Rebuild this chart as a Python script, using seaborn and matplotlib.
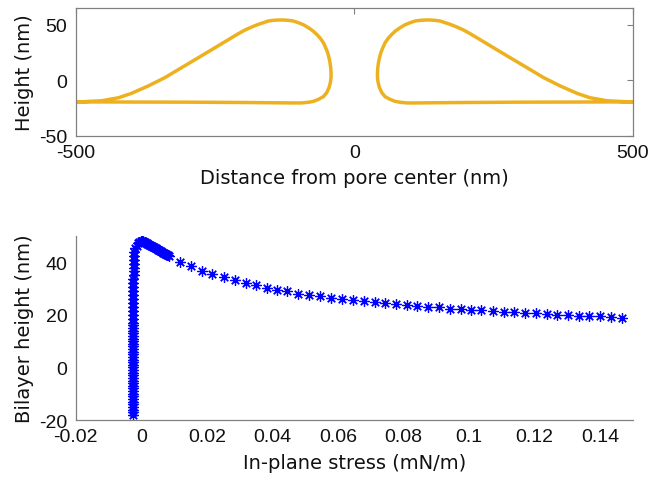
import matplotlib
matplotlib.use("Agg")
import matplotlib.pyplot as plt
import seaborn as sns
import pandas as pd

# ---- Bilayer profile around the pore (left and right lobes) ----
left_x = [-500, -450, -400, -300, -200, -112.3, -94.4, -82.4, -73.4, -64.4,
          -55.4, -49.5, -45.3, -42.9, -41.7, -41.7, -42.3, -43.5, -45.3, -47.7,
          -51.3, -55.4, -60.8, -67.4, -74.6, -82.4, -91.4, -100.4, -109.3, -118.3,
          -127.3, -136.3, -145.3, -154.2, -163.2, -172.2, -184.2, -196.2, -208.1,
          -220.1, -250, -280, -310, -340, -370, -400, -423, -453, -483, -500]
left_y = [-19.4, -19.4, -19.5, -19.6, -19.9, -20.3, -20.3, -19.7, -18.9, -17.1,
          -14.7, -11.1, -6.6, -2.1, 2.4, 6.9, 11.4, 15.9, 20.3, 24.8,
          29.3, 33.8, 37.7, 41.3, 44.6, 47.3, 50.0, 51.8, 53.3, 53.9,
          54.2, 54.2, 53.9, 53.3, 51.8, 50.3, 47.9, 45.2, 41.9,
          38.3, 29.3, 20.3, 11.4, 2.4, -5.1, -11.7, -15.6, -18.3, -19.1, -19.4]
right_x = [500, 450, 400, 300, 200, 112.3, 94.4, 82.4, 73.4, 64.4,
           55.4, 49.5, 45.3, 42.9, 41.7, 41.7, 42.3, 43.5, 45.3, 47.7,
           51.3, 55.4, 60.8, 67.4, 74.6, 82.4, 91.4, 100.4, 109.3, 118.3,
           127.3, 136.3, 145.3, 154.2, 163.2, 172.2, 184.2, 196.2, 208.1,
           220.1, 250, 280, 310, 340, 370, 400, 423, 453, 483, 500]
right_y = [-19.4, -19.4, -19.5, -19.6, -19.9, -20.3, -20.3, -19.7, -18.9, -17.1,
           -14.7, -11.1, -6.6, -2.1, 2.4, 6.9, 11.4, 15.9, 20.3, 24.8,
           29.3, 33.8, 37.7, 41.3, 44.6, 47.3, 50.0, 51.8, 53.3, 53.9,
           54.2, 54.2, 53.9, 53.3, 51.8, 50.3, 47.9, 45.2, 41.9,
           38.3, 29.3, 20.3, 11.4, 2.4, -5.1, -11.7, -15.6, -18.3, -19.1, -19.4]

# ---- Bilayer height versus in-plane stress ----
stress = [
    # steep branch near zero stress
    -0.0025, -0.0025, -0.0025, -0.0025, -0.0025, -0.0025, -0.0025, -0.0025, -0.0025,
    -0.0025, -0.0024, -0.0024, -0.0024, -0.0024, -0.0024, -0.0024, -0.0024, -0.0024,
    -0.0024, -0.0024, -0.0024, -0.0024, -0.0024, -0.0024, -0.0024, -0.0024, -0.0024,
    -0.0024, -0.0024, -0.0024, -0.0024, -0.0024, -0.0024, -0.0024, -0.0024, -0.0024,
    -0.0024, -0.0024, -0.0024, -0.0024, -0.0024, -0.0024, -0.0024, -0.0024, -0.0024,
    -0.0024, -0.0024, -0.0023, -0.0023, -0.0023, -0.0023, -0.0022, -0.0022, -0.0021,
    # turning point
    -0.0018, -0.0014, -0.0010, -0.0006, -0.0002, 0.0002, 0.0006, 0.0010,
    0.0013, 0.0016, 0.0019, 0.0022, 0.0025, 0.0028, 0.0031, 0.0034, 0.0037,
    0.0040, 0.0043, 0.0046, 0.0049, 0.0052, 0.0055, 0.0058, 0.0061, 0.0064,
    0.0067, 0.0070, 0.0073, 0.0076, 0.0079, 0.0082, 0.0085,
    # tension branch
    0.0117, 0.0151, 0.0185, 0.0217, 0.0252, 0.0286, 0.0319, 0.0351, 0.0383,
    0.0413, 0.0446, 0.0479, 0.0513, 0.0545, 0.0579, 0.0612, 0.0646, 0.0679,
    0.0712, 0.0744, 0.0778, 0.0811, 0.0842, 0.0875, 0.0908, 0.0941, 0.0975,
    0.1007, 0.1038, 0.1074, 0.1107, 0.1139, 0.1172, 0.1205, 0.1238, 0.1268,
    0.1301, 0.1336, 0.1367, 0.1400, 0.1433, 0.1468,
]
height = [
    -18, -17, -16, -15, -14, -13, -12, -11, -10,
    -9, -8, -7, -6, -5, -4, -3, -2, -1,
    0, 1, 2, 3, 4, 5, 6, 7, 8,
    9, 10, 11, 12, 13, 14, 15, 16, 17,
    18.5, 20, 21.5, 23, 24.5, 26, 27.5, 29, 30.5,
    32, 33.5, 35, 36.5, 38, 39.5, 41, 42.5, 44,
    45.3, 46.3, 47.2, 47.8, 48.1, 48.2, 48.0, 47.7,
    47.5, 47.3, 47.1, 46.9, 46.7, 46.5, 46.3, 46.1, 45.9,
    45.7, 45.5, 45.3, 45.1, 44.8, 44.6, 44.4, 44.2, 44.0,
    43.7, 43.5, 43.3, 43.1, 42.9, 42.7, 42.5,
    40.2, 38.5, 36.8, 35.5, 34.4, 33.2, 32.2, 31.2, 30.3,
    29.5, 28.9, 28.1, 27.6, 27.0, 26.6, 26.1, 25.6, 25.2,
    24.8, 24.4, 24.0, 23.7, 23.3, 23.0, 22.8, 22.4, 22.3,
    22.0, 21.8, 21.5, 21.2, 21.0, 20.7, 20.6, 20.4, 20.1,
    20.0, 19.7, 19.6, 19.5, 19.2, 18.9,
]

x_ticks_top = [-500, 0, 500]
y_ticks_top = [-50, 0, 50]
x_ticks_bot = [-0.02, 0, 0.02, 0.04, 0.06, 0.08, 0.1, 0.12, 0.14]
x_tick_labels_bot = ["-0.02", "0", "0.02", "0.04", "0.06", "0.08", "0.1", "0.12", "0.14"]
y_ticks_bot = [-20, 0, 20, 40]

sns.set_theme(style="white")
plt.rcParams["font.family"] = ["Liberation Sans", "DejaVu Sans"]
plt.rcParams["axes.unicode_minus"] = False

axis_gray = "#808080"
label_font = dict(family="DejaVu Sans", size=14, color="#111111")

fig = plt.figure(figsize=(6.5, 4.81), dpi=100)
ax1 = fig.add_axes([0.1165, 0.7152, 0.857, 0.2661])
ax2 = fig.add_axes([0.1165, 0.1247, 0.857, 0.3826])

# top panel
line_color = "#EDB120"
df_left = pd.DataFrame({"x": left_x, "y": left_y})
df_right = pd.DataFrame({"x": right_x, "y": right_y})
for d in (df_left, df_right):
    sns.lineplot(data=d, x="x", y="y", sort=False, estimator=None,
                 color=line_color, linewidth=2.5, ax=ax1)
ax1.set_xlim(-500, 500)
ax1.set_ylim(-50, 65)
ax1.set_xticks(x_ticks_top)
ax1.set_yticks(y_ticks_top)
ax1.tick_params(direction="in", length=4, width=0.8, color=axis_gray,
                top=True, right=True, labelsize=14, pad=6, labelcolor="#111111")
for s in ax1.spines.values():
    s.set_visible(True)
    s.set_color(axis_gray)
    s.set_linewidth(0.9)
ax1.set_xlabel("Distance from pore center (nm)", **label_font)
ax1.set_ylabel("Height (nm)", **label_font)
ax1.xaxis.set_label_coords(0.5, -0.25)
ax1.yaxis.set_label_coords(-0.075, 0.5)

# bottom panel
df_stress = pd.DataFrame({"stress": stress, "height": height})
sns.lineplot(data=df_stress, x="stress", y="height", sort=False, estimator=None,
             linestyle="", marker=(8, 2, 0), markersize=7.5,
             markeredgecolor="#0000FF", markeredgewidth=0.9, color="#0000FF", ax=ax2)
ax2.set_xlim(-0.02, 0.15)
ax2.set_ylim(-20, 50)
ax2.set_xticks(x_ticks_bot)
ax2.set_xticklabels(x_tick_labels_bot)
ax2.set_yticks(y_ticks_bot)
ax2.tick_params(direction="in", length=4, width=0.8, color=axis_gray,
                labelsize=14, pad=6, labelcolor="#111111")
for side in ("top", "right"):
    ax2.spines[side].set_visible(False)
for side in ("left", "bottom"):
    ax2.spines[side].set_color(axis_gray)
    ax2.spines[side].set_linewidth(0.9)
ax2.set_xlabel("In-plane stress (mN/m)", **label_font)
ax2.set_ylabel("Bilayer height (nm)", **label_font)
ax2.xaxis.set_label_coords(0.5, -0.18)
ax2.yaxis.set_label_coords(-0.075, 0.5)

fig.savefig("out.png", dpi=100)
